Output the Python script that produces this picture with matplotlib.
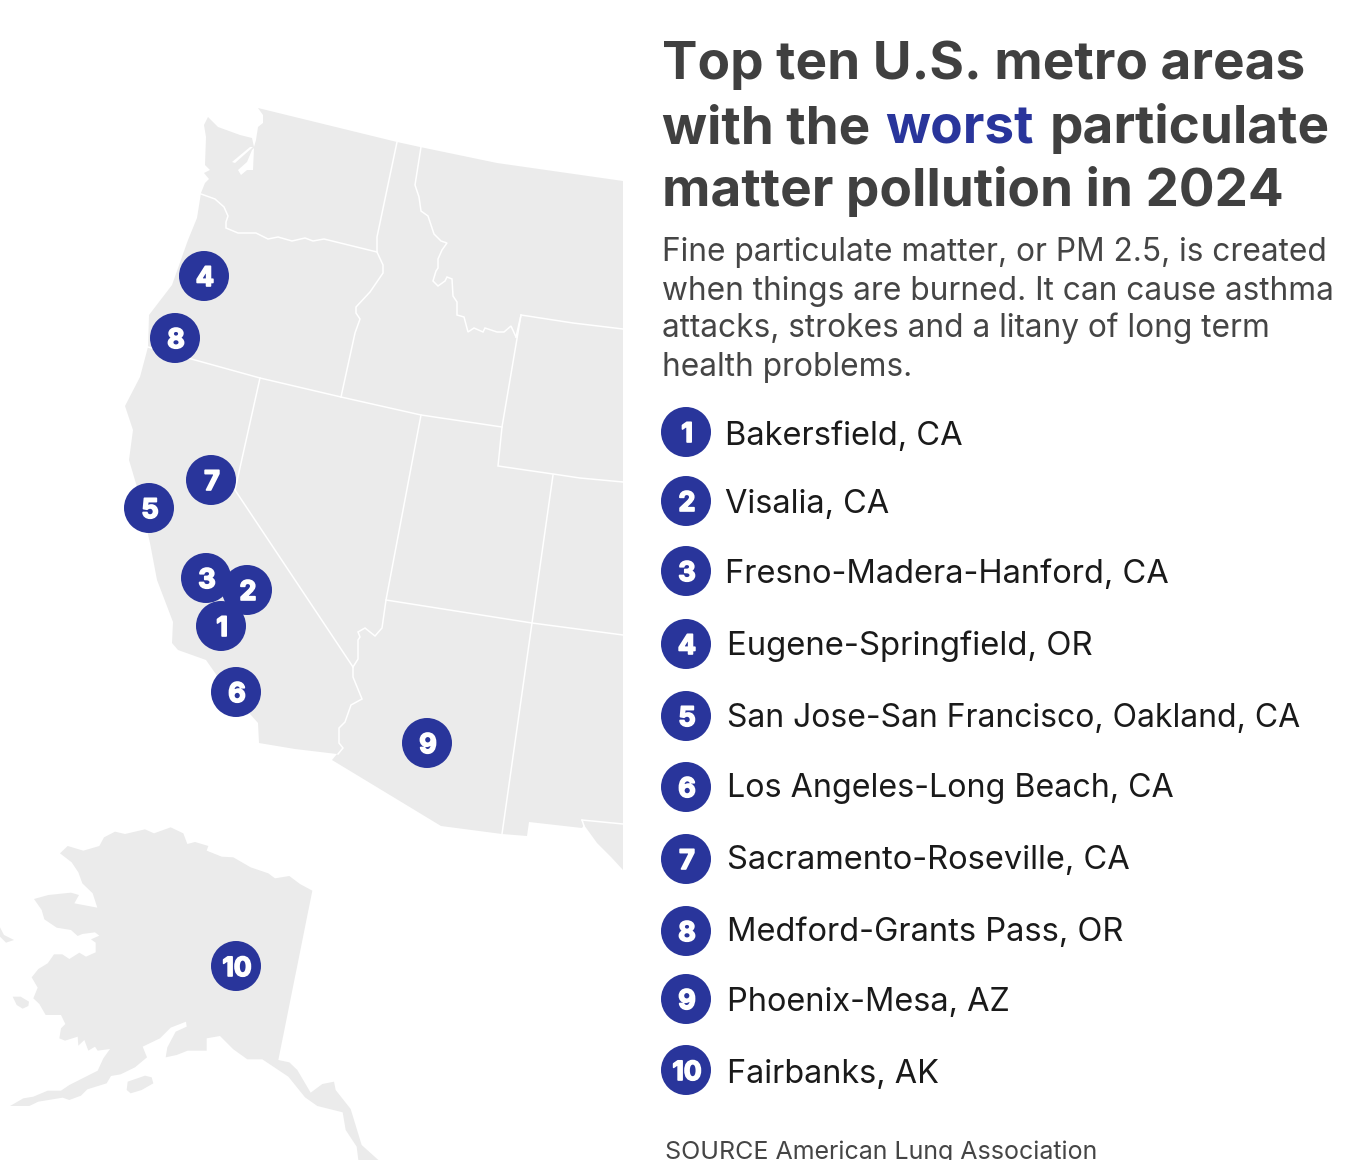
import matplotlib.patheffects as pe
import matplotlib.pyplot as plt
from matplotlib.patches import Circle, Polygon

plt.rcParams.update({
	"font.family": ["Inter", "DejaVu Sans"],
})

ranks = ["1", "2", "3", "4", "5", "6", "7", "8", "9", "10"]
metros = [
	"Bakersfield, CA",
	"Visalia, CA",
	"Fresno-Madera-Hanford, CA",
	"Eugene-Springfield, OR",
	"San Jose-San Francisco, Oakland, CA",
	"Los Angeles-Long Beach, CA",
	"Sacramento-Roseville, CA",
	"Medford-Grants Pass, OR",
	"Phoenix-Mesa, AZ",
	"Fairbanks, AK",
]
subtitleLines = [
	"Fine particulate matter, or PM 2.5, is created",
	"when things are burned. It can cause asthma",
	"attacks, strokes and a litany of long term",
	"health problems.",
]

# marker centres on the map, same order as ranks
metroX = [221, 247, 206, 204, 149, 236, 211, 175, 427, 236]
metroY = [626, 590, 578, 276, 508, 692, 480, 338, 743, 966]

# map shapes
westOutline = [
	(258, 108), (397, 142), (420, 147), (497, 163), (623, 181), (623, 870), (611, 857), (597, 843),
	(584, 825), (582, 828), (529, 822), (527, 836), (502, 834), (441, 826), (370, 783), (332, 760),
	(337, 754), (295, 749), (259, 743), (258, 723), (220, 680), (206, 660), (178, 650), (172, 643),
	(173, 622), (157, 580), (150, 543), (137, 487), (129, 460), (133, 430), (125, 406), (140, 377),
	(148, 347), (149, 315), (172, 285), (188, 240), (197, 218), (201, 193), (205, 183), (209, 179),
	(204, 173), (210, 170), (205, 165), (206, 137), (204, 125), (208, 117), (218, 127), (240, 135),
	(252, 138), (254, 147), (256, 140), (258, 127), (263, 123), (263, 115),
]
pugetInlets = [
	[(232, 162), (250, 147), (253, 147), (235, 163)],
	[(238, 170), (247, 162), (252, 150), (254, 148), (253, 170), (247, 170), (241, 175)],
]
stateBorders = [
	[(201, 194), (215, 199), (224, 207), (228, 216), (226, 222), (226, 228), (238, 233), (256, 233), (268, 239),
		(278, 237), (292, 241), (305, 238), (313, 241), (324, 239), (377, 252)],
	[(397, 142), (377, 237), (377, 252), (383, 265), (383, 273), (370, 292), (356, 307), (356, 313), (360, 319),
		(355, 333), (341, 397)],
	[(148, 347), (260, 378), (341, 397), (421, 415), (502, 427)],
	[(260, 378), (235, 490), (353, 667)],
	[(353, 667), (353, 677), (362, 699), (351, 705), (345, 722), (339, 728), (339, 743), (343, 748), (338, 754)],
	[(353, 667), (358, 659), (358, 640), (360, 637), (358, 632), (365, 628), (375, 636), (382, 628), (386, 600)],
	[(421, 415), (386, 600), (532, 623), (623, 635)],
	[(553, 475), (532, 623), (502, 834)],
	[(521, 315), (502, 427), (498, 466), (553, 474), (580, 478), (623, 482)],
	[(623, 329), (573, 323), (521, 315), (516, 337)],
	[(421, 147), (415, 185), (419, 197), (421, 211), (428, 216), (434, 234), (441, 241), (447, 243), (442, 250),
		(438, 259), (438, 268), (436, 271), (433, 281), (438, 286), (445, 281), (447, 277), (452, 279), (453, 296),
		(457, 302), (457, 315), (464, 317), (468, 332), (474, 328), (483, 332), (485, 328), (497, 332), (504, 332),
		(511, 326), (516, 337)],
	[(582, 820), (623, 824)],
	[(582, 820), (584, 826)],
]
alaskaOutline = [
	(180, 130), (203, 108), (250, 122), (298, 108), (312, 82), (345, 65), (375, 72), (435, 58), (462, 70), (512, 52),
	(550, 70), (562, 102), (585, 96), (625, 108), (620, 122), (665, 140), (700, 142), (752, 172), (805, 190), (825, 205),
	(868, 198), (900, 222), (937, 242), (835, 750), (868, 757), (892, 780), (932, 848), (967, 822), (1002, 815),
	(1007, 840), (1052, 897), (1085, 1005), (1135, 1050), (1075, 1050), (1070, 1010), (1037, 960), (1028, 907),
	(952, 888), (915, 862), (865, 800), (787, 748), (742, 748), (700, 718), (660, 678), (620, 685), (620, 722),
	(563, 722), (530, 735), (497, 742), (502, 712), (527, 665), (560, 650), (558, 635), (512, 653), (480, 685),
	(428, 710), (441, 742), (405, 772), (362, 793), (333, 798), (320, 820), (262, 838), (243, 857), (208, 870),
	(188, 863), (115, 875), (88, 888), (30, 888), (70, 865), (100, 860), (143, 842), (183, 842), (208, 825), (293, 782),
	(310, 745), (330, 717), (293, 722), (285, 710), (265, 722), (253, 690), (235, 707), (233, 680), (195, 692),
	(178, 685), (183, 655), (196, 642), (183, 615), (137, 615), (118, 582), (100, 565), (113, 533), (95, 502),
	(115, 477), (143, 460), (162, 433), (187, 433), (208, 447), (238, 428), (258, 440), (287, 427), (287, 398),
	(273, 388), (298, 377), (285, 367), (247, 372), (233, 378), (213, 360), (170, 353), (133, 328), (125, 300),
	(102, 267), (145, 255), (213, 248), (237, 255), (223, 280), (292, 293), (278, 250), (247, 220), (235, 187),
	(215, 157),
]
alaskaIslands = [
	[(383, 815), (435, 797), (455, 802), (460, 820), (425, 840), (392, 850), (380, 840)],
	[(38, 560), (62, 560), (87, 575), (85, 588), (68, 596), (50, 585)],
	[(0, 352), (12, 375), (42, 390), (18, 398), (0, 380)],
]

blue = "#29359B"
mapGrey = "#EBEBEB"
titleGrey = "#404040"


def alaskaPixels(points):
	return [(x / 3, 810 + y / 3) for x, y in points]


fig = plt.figure(figsize=(13.5, 11.6), dpi=100)
ax = fig.add_axes([0, 0, 1, 1])
ax.set_xlim(0, 1350)
ax.set_ylim(1160, 0)
ax.axis("off")

#### Map
ax.add_patch(Polygon(westOutline, closed=True, fc=mapGrey, ec="none", zorder=1))
for inlet in pugetInlets:
	ax.add_patch(Polygon(inlet, closed=True, fc="white", ec="none", zorder=2))
for border in stateBorders:
	ax.plot(*zip(*border), color="white", lw=1.1, solid_joinstyle="miter", zorder=2)
ax.add_patch(Polygon(alaskaPixels(alaskaOutline), closed=True, fc=mapGrey, ec="none", zorder=1))
for island in alaskaIslands:
	ax.add_patch(Polygon(alaskaPixels(island), closed=True, fc=mapGrey, ec="none", zorder=1))


def badge(x, y, label):
	ax.add_patch(Circle((x, y), 25, fc=blue, ec="none", zorder=3))
	size = 19.5 if label != "10" else 19
	ax.text(x + 1, y + 10, label, color="white", fontsize=size, fontweight="bold", ha="center", va="baseline", zorder=4,
		path_effects=[pe.withStroke(linewidth=1.2, foreground="white")])


for i in [9, 8, 7, 6, 5, 4, 3, 2, 1, 0]:
	badge(metroX[i], metroY[i], ranks[i])

#### Title
titleSize = 38.2
ax.text(662, 79, "Top ten U.S. metro areas", color=titleGrey, fontsize=titleSize, fontweight="bold", va="baseline")
ax.text(662, 206, "matter pollution in 2024", color=titleGrey, fontsize=titleSize, fontweight="bold", va="baseline")

renderer = fig.canvas.get_renderer()


def textWidth(s):
	t = ax.text(0, 0, s, fontsize=titleSize, fontweight="bold")
	w = t.get_window_extent(renderer).width
	t.remove()
	return w


xWorst = 662 + textWidth("with the worst") - textWidth("worst") + 2
xRest = 662 + textWidth("with the worst particulate") - textWidth("particulate") + 6
ax.text(662, 143, "with the", color=titleGrey, fontsize=titleSize, fontweight="bold", va="baseline")
ax.text(xWorst, 143, "worst", color=blue, fontsize=titleSize, fontweight="bold", va="baseline")
ax.text(xRest, 143, "particulate", color=titleGrey, fontsize=titleSize, fontweight="bold", va="baseline")

#### Subtitle
for line, y in zip(subtitleLines, [261, 300, 337, 376]):
	ax.text(662, y, line, color="#454545", fontsize=22.8, va="baseline")

#### Ranked list
rowY = [432, 501, 571, 644, 716, 787, 859, 931, 999, 1070]
rowTextX = [725, 725, 725, 727, 727, 727, 727, 727, 727, 727]
rowBaseline = [445, 513, 583, 655, 727, 797, 869, 941, 1011, 1083]
rowSize = [23.5, 23.4, 23.5, 23.7, 23.0, 23.2, 23.5, 23.5, 23.4, 23.3]
for rank, metro, y, textX, baseline, size in zip(ranks, metros, rowY, rowTextX, rowBaseline, rowSize):
	badge(686, y, rank)
	ax.text(textX, baseline, metro, color="#1A1A1A", fontsize=size, va="baseline")

ax.text(665, 1159, "SOURCE American Lung Association", color="#454545", fontsize=18, va="baseline", clip_on=True)

fig.savefig("out.png", dpi=100, facecolor="white")
